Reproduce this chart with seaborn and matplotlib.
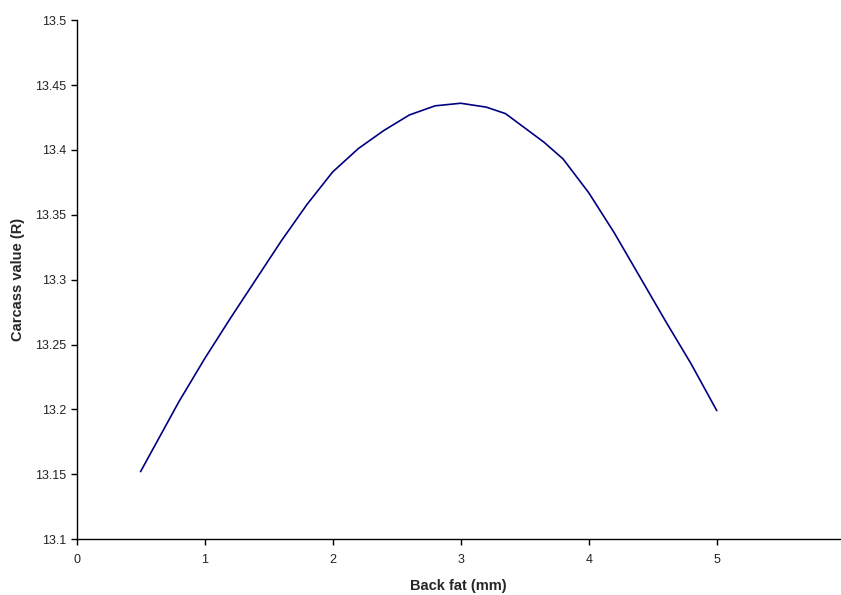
import pandas as pd
import numpy as np
import matplotlib
matplotlib.use('Agg')
import matplotlib.pyplot as plt
import seaborn as sns

# Values
back_fat = [0.5, 0.6, 0.8, 1.0, 1.2, 1.4, 1.6, 1.8, 2.0, 2.2, 2.4, 2.6, 2.8,
            3.0, 3.2, 3.35, 3.5, 3.65, 3.8, 4.0, 4.2, 4.4, 4.6, 4.8, 5.0]
carcass_value = [13.152, 13.170, 13.206, 13.239, 13.270, 13.300, 13.330, 13.358,
                 13.383, 13.401, 13.415, 13.427, 13.434, 13.436, 13.433, 13.428,
                 13.417, 13.406, 13.393, 13.367, 13.336, 13.302, 13.268, 13.235, 13.199]
x_ticks = [0, 1, 2, 3, 4, 5]
y_ticks = [13.1, 13.15, 13.2, 13.25, 13.3, 13.35, 13.4, 13.45, 13.5]
y_tick_labels = ['13.1', '13.15', '13.2', '13.25', '13.3', '13.35', '13.4', '13.45', '13.5']

df = pd.DataFrame({'back_fat': back_fat, 'carcass_value': carcass_value})

sns.set_style('ticks')
plt.rcParams['font.family'] = ['Liberation Sans', 'DejaVu Sans']

fig = plt.figure(figsize=(8.41, 5.95), dpi=100)
ax = fig.add_axes([0.091, 0.094, 0.909, 0.872])

sns.lineplot(data=df, x='back_fat', y='carcass_value', color='#000080',
             linewidth=1.2, ax=ax)

ax.set_xlim(0, 5.97)
ax.set_ylim(13.1, 13.5)
ax.set_xticks(x_ticks)
ax.set_xticklabels([str(t) for t in x_ticks])
ax.set_yticks(y_ticks)
ax.set_yticklabels(y_tick_labels)
ax.tick_params(axis='both', labelsize=9, length=4, width=1, color='black',
               labelcolor='#222222')
ax.tick_params(axis='x', pad=7)
ax.spines['right'].set_visible(False)
ax.spines['top'].set_visible(False)
for s in ['left', 'bottom']:
    ax.spines[s].set_color('black')
    ax.spines[s].set_linewidth(1)

ax.set_xlabel('Back fat (mm)', fontsize=10.5, fontweight='bold', labelpad=9)
ax.set_ylabel('Carcass value (R)', fontsize=10.5, fontweight='bold', labelpad=7)

fig.savefig('out.png', dpi=100)
